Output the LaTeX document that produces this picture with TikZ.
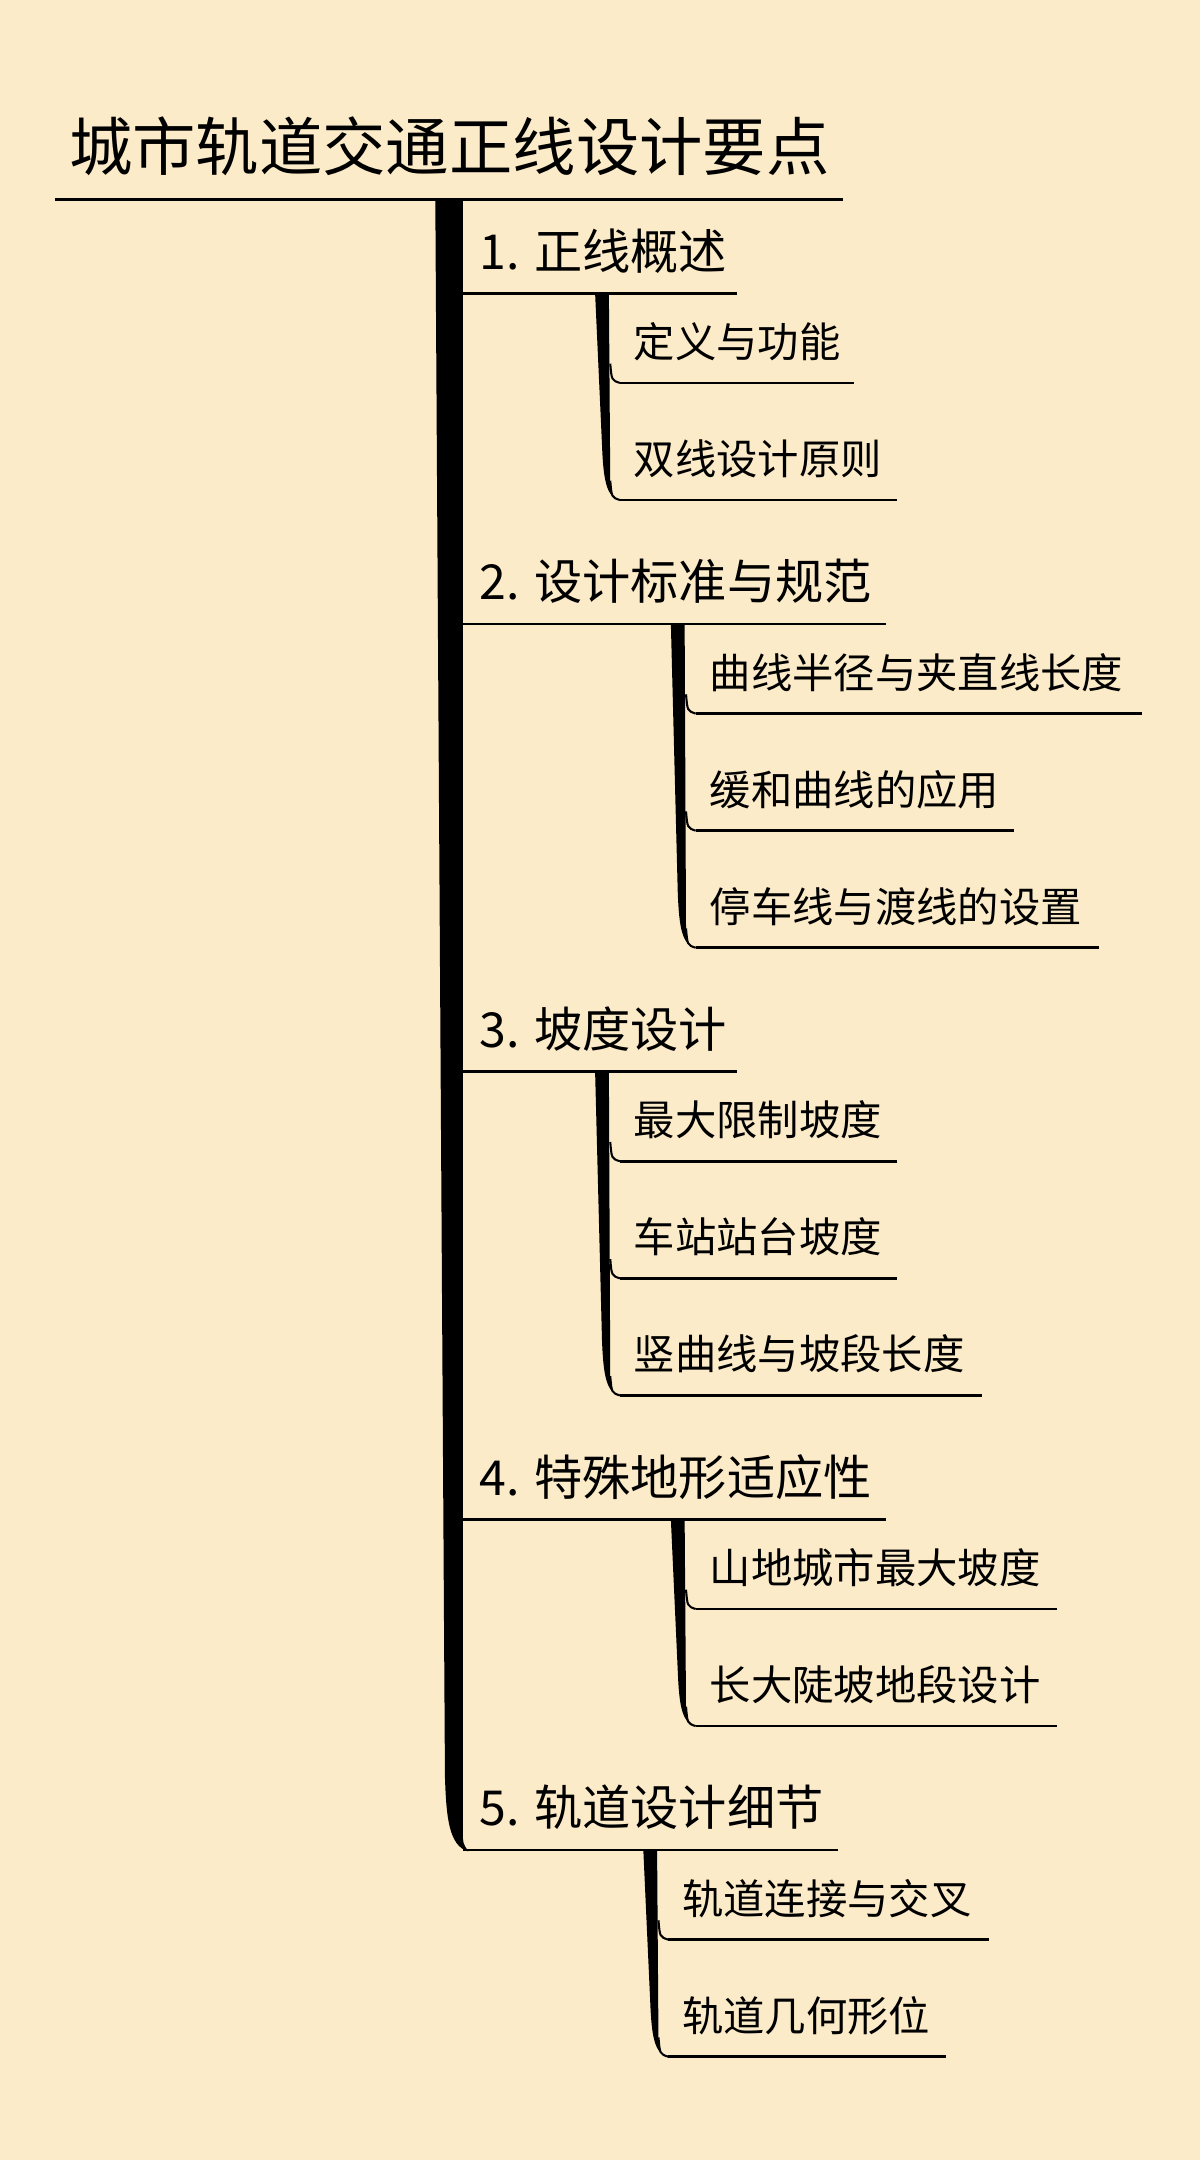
\documentclass[tikz,border=0pt]{standalone}
\usepackage{fontspec}
\setmainfont{Noto Sans CJK SC}
\definecolor{bg}{HTML}{FCEBC8}
\begin{document}
\begin{tikzpicture}[x=1pt,y=-1pt,
  ttl/.style={anchor=west,inner sep=0,font=\fontsize{46}{50}\selectfont},
  lone/.style={anchor=west,inner sep=0,font=\fontsize{35}{38}\selectfont},
  ltwo/.style={anchor=west,inner sep=0,font=\fontsize{30}{34}\selectfont},
  uline/.style={line width=2pt}]
\fill[bg] (0,0) rectangle (871,1568);
\useasboundingbox (0,0) rectangle (871,1568);
% title
\node[ttl] (t) at (50,106) {城市轨道交通正线设计要点};
\draw[uline] (40,145) -- (612,145);
% trunk
\fill (316,145) -- (336,145) -- (336,1330) .. controls (336,1338) .. (340,1344) .. controls (326,1340) and (324,1320) .. (323,1290) -- cycle;
% level 1
\foreach \y/\r/\t in {213/535/1. 正线概述,453/643/2. 设计标准与规范,778/535/3. 坡度设计,1103/643/4. 特殊地形适应性,1343/608/5. 轨道设计细节}{
  \node[lone] at (348,\y-31) {\t};
  \draw[uline] (336,\y) -- (\r,\y);
}
% branches
\newcommand\branch[3]{% x, ytop, ybottom
  \fill (#1-6,#2) -- (#1+4,#2) -- (#1+5,#3-12) .. controls (#1+6,#3-3) .. (#1+12,#3) .. controls (#1+2,#3-2) and (#1,#3-15) .. (#1-1,#3-40) -- cycle;}
\branch{438}{213}{363}
\branch{493}{453}{688}
\branch{438}{778}{1013}
\branch{493}{1103}{1253}
\branch{473}{1343}{1493}
\newcommand\kid[4]{% x, y, right, text
  \node[ltwo] at (#1+10,#2-30) {#4};
  \draw[uline] (#1,#2) -- (#3,#2);
  \draw[line width=1.5pt] (#1-7,#2-14) .. controls (#1-6,#2-2) .. (#1,#2);}
\kid{450}{278}{620}{定义与功能}
\kid{450}{363}{651}{双线设计原则}
\kid{505}{518}{829}{曲线半径与夹直线长度}
\kid{505}{603}{736}{缓和曲线的应用}
\kid{505}{688}{798}{停车线与渡线的设置}
\kid{450}{843}{651}{最大限制坡度}
\kid{450}{928}{651}{车站站台坡度}
\kid{450}{1013}{713}{竖曲线与坡段长度}
\kid{505}{1168}{767}{山地城市最大坡度}
\kid{505}{1253}{767}{长大陡坡地段设计}
\kid{485}{1408}{718}{轨道连接与交叉}
\kid{485}{1493}{687}{轨道几何形位}
\end{tikzpicture}
\end{document}
